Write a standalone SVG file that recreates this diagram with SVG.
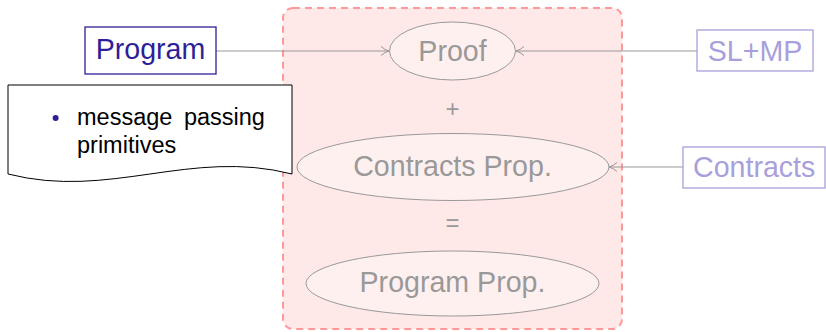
<svg xmlns="http://www.w3.org/2000/svg" width="826" height="332" viewBox="0 0 826 332">
<defs>
<style>
text{font-family:"Liberation Sans",Arial,sans-serif;}
.lbl{font-size:28.6px;}
.gray{fill:#999999;}
.ell{fill:#fff0f0;stroke:#999999;stroke-width:1;}
.conn{stroke:#999999;stroke-width:1;fill:none;}
.blue{fill:#2e1f99;}
.lav{fill:#a89fdc;}
</style>
<marker id="arr" viewBox="0 0 10 10" refX="9" refY="5" markerWidth="10" markerHeight="10" markerUnits="userSpaceOnUse" orient="auto">
<path d="M1,0.5 Q5,4 9,5 Q5,6 1,9.5" fill="none" stroke="#999999" stroke-width="1"/>
</marker>
</defs>
<rect width="826" height="332" fill="#ffffff"/>
<g id="container">
<rect x="283" y="8" width="339" height="321" rx="10" ry="10" fill="#ffe8e8" stroke="#ff9999" stroke-width="2" stroke-dasharray="7,5"/>
</g>
<g id="connectors">
<line class="conn" x1="216" y1="51" x2="389" y2="51" marker-end="url(#arr)"/>
<line class="conn" x1="697" y1="51" x2="516" y2="51" marker-end="url(#arr)"/>
<line class="conn" x1="683" y1="167" x2="609" y2="167" marker-end="url(#arr)"/>
</g>
<g id="program">
<rect x="85" y="27" width="131" height="47" fill="#ffffff" stroke="#2e1f99" stroke-width="1.3"/>
<text class="lbl blue" x="150.5" y="58.5" text-anchor="middle">Program</text>
</g>
<g id="note">
<path d="M8,85 L292,85 L292,174 C190,148 110,200 8,174 Z" fill="#ffffff" stroke="#000000" stroke-width="1"/>
<circle cx="55.6" cy="118" r="3" fill="#2e1f99"/>
<text x="77" y="124.5" font-size="23.5" fill="#000000" word-spacing="5">message passing</text>
<text x="77" y="153" font-size="23.5" fill="#000000">primitives</text>
</g>
<g id="proof">
<ellipse class="ell" cx="452.5" cy="51" rx="63" ry="29"/>
<text class="lbl gray" x="452.5" y="61" text-anchor="middle">Proof</text>
</g>
<g id="slmp">
<rect x="697" y="30" width="116" height="41" fill="#ffffff" stroke="#a89fdc" stroke-width="1.3"/>
<text class="lbl lav" x="755" y="61" text-anchor="middle">SL+MP</text>
</g>
<g id="plus">
<text x="452.5" y="117" font-size="24" class="gray" text-anchor="middle">+</text>
</g>
<g id="contractsprop">
<ellipse class="ell" cx="453" cy="167" rx="156" ry="33.5"/>
<text class="lbl gray" x="452.5" y="176" text-anchor="middle">Contracts Prop.</text>
</g>
<g id="contracts">
<rect x="683" y="147" width="142" height="41" fill="#ffffff" stroke="#a89fdc" stroke-width="1.3"/>
<text class="lbl lav" x="693" y="177">Contracts</text>
</g>
<g id="equals">
<text x="452.5" y="231" font-size="24" class="gray" text-anchor="middle">=</text>
</g>
<g id="programprop">
<ellipse class="ell" cx="452.5" cy="283.5" rx="146.5" ry="32.5"/>
<text class="lbl gray" x="452.5" y="292" text-anchor="middle">Program Prop.</text>
</g>
</svg>
